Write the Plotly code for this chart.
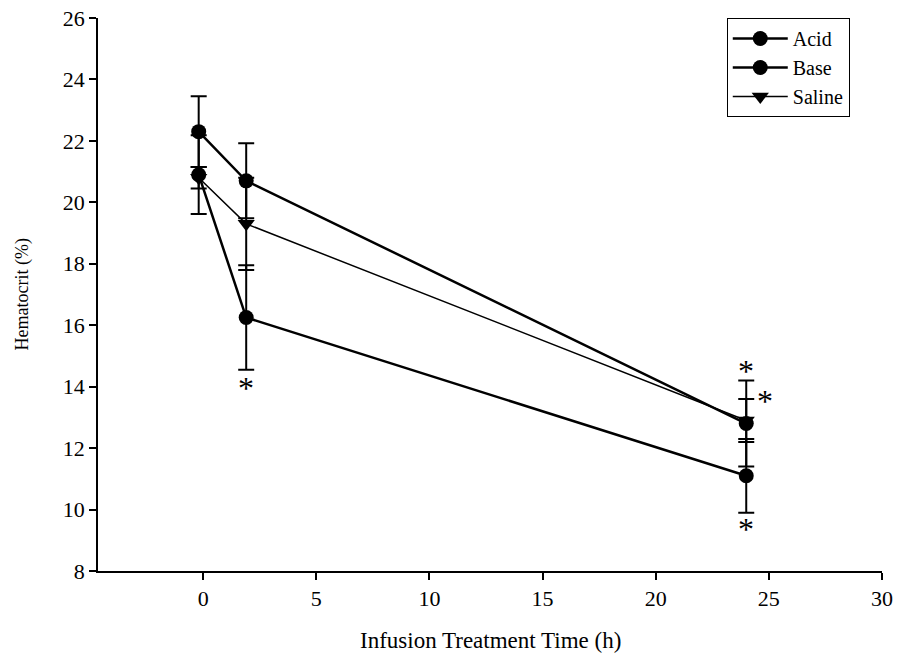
import plotly.graph_objects as go

# Data
time_acid = [-0.2, 1.9, 24.0]
acid = [22.3, 20.7, 12.8]
acid_err = [1.15, 1.22, 1.4]

time_base = [-0.2, 1.9, 24.0]
base = [20.9, 16.25, 11.1]
base_err = [1.28, 1.7, 1.2]

time_saline = [-0.2, 1.9, 24.0]
saline = [20.8, 19.3, 12.9]
saline_err = [0.35, 1.5, 0.7]

# significance marks (x, y)
star_x = [1.9, 24.0, 24.85, 24.0]
star_y = [13.97, 14.52, 13.52, 9.38]

x_ticks = [0, 5, 10, 15, 20, 25, 30]
y_ticks = [8, 10, 12, 14, 16, 18, 20, 22, 24, 26]

FONT = "Liberation Serif"

fig = go.Figure()

def err(arr):
    return dict(type="data", array=arr, visible=True, color="black",
                thickness=2, width=8)

fig.add_trace(go.Scatter(
    x=time_saline, y=saline, name="Saline", mode="lines+markers",
    line=dict(color="black", width=1.5),
    marker=dict(symbol="triangle-down", size=15, color="black"),
    error_y=err(saline_err), legendrank=3))
fig.add_trace(go.Scatter(
    x=time_base, y=base, name="Base", mode="lines+markers",
    line=dict(color="black", width=2.5),
    marker=dict(symbol="circle", size=15, color="black"),
    error_y=err(base_err), legendrank=2))
fig.add_trace(go.Scatter(
    x=time_acid, y=acid, name="Acid", mode="lines+markers",
    line=dict(color="black", width=2.5),
    marker=dict(symbol="circle", size=15, color="black"),
    error_y=err(acid_err), legendrank=1))

for sx, sy in zip(star_x, star_y):
    fig.add_annotation(x=sx, y=sy, text="*", showarrow=False,
                       font=dict(family=FONT, size=32, color="black"),
                       xanchor="center", yanchor="middle")

# axis titles
fig.add_annotation(x=0.5, y=0, xref="paper", yref="paper", yshift=-69,
                   text="Infusion Treatment Time (h)", showarrow=False,
                   font=dict(family=FONT, size=23), xanchor="center", yanchor="middle")
fig.add_annotation(x=0, y=0.5, xref="paper", yref="paper", xshift=-76,
                   text="Hematocrit (%)", showarrow=False, textangle=-90,
                   font=dict(family=FONT, size=18), xanchor="center", yanchor="middle")

fig.update_layout(
    width=901, height=666,
    margin=dict(l=98, r=19, t=18, b=95),
    paper_bgcolor="white", plot_bgcolor="white",
    font=dict(family=FONT, size=22, color="black"),
    showlegend=True,
    legend=dict(x=0.802, y=1.0, xanchor="left", yanchor="top",
                bordercolor="black", borderwidth=1, bgcolor="white",
                font=dict(family=FONT, size=20),
                itemwidth=55, tracegroupgap=0, entrywidth=100),
)

fig.update_xaxes(
    range=[-4.65, 30], tickvals=x_ticks, ticktext=[str(v) for v in x_ticks],
    showline=True, linecolor="black", linewidth=1.5,
    ticks="outside", ticklen=7, tickcolor="black", tickwidth=1.5,
    showgrid=False, zeroline=False, automargin=False,
    tickfont=dict(family=FONT, size=22),
)
fig.update_yaxes(
    range=[8, 26], tickvals=y_ticks, ticktext=[str(v) for v in y_ticks],
    showline=True, linecolor="black", linewidth=1.5,
    ticks="outside", ticklen=7, tickcolor="black", tickwidth=1.5,
    showgrid=False, zeroline=False, automargin=False,
    tickfont=dict(family=FONT, size=22),
)

fig.write_html("out.html")
